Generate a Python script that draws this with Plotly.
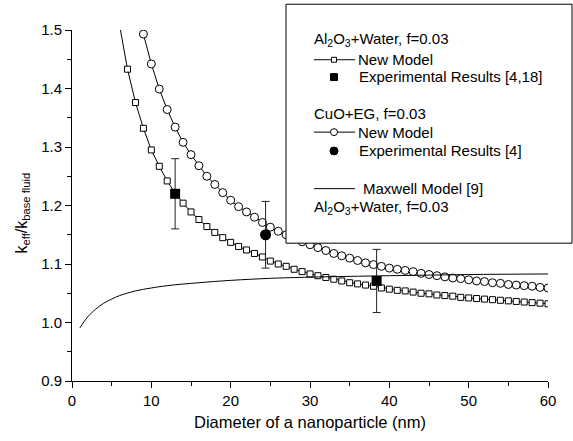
import plotly.graph_objects as go

# ---------------- data ----------------
d_al = list(range(6, 61))
k_al = [1.508, 1.433, 1.376, 1.332, 1.295, 1.267, 1.242, 1.221, 1.204, 1.189,
        1.176, 1.164, 1.154, 1.145, 1.137, 1.130, 1.124, 1.118, 1.112, 1.105,
        1.100, 1.096, 1.091, 1.087, 1.083, 1.080, 1.077, 1.074, 1.071, 1.068,
        1.066, 1.064, 1.062, 1.059, 1.057, 1.055, 1.054, 1.052, 1.050, 1.049,
        1.047, 1.046, 1.045, 1.043, 1.042, 1.041, 1.040, 1.039, 1.038, 1.037,
        1.036, 1.035, 1.034, 1.033, 1.032]

d_cuo = list(range(9, 61))
k_cuo = [1.493, 1.442, 1.399, 1.364, 1.334, 1.308, 1.287, 1.268, 1.250, 1.236,
         1.222, 1.209, 1.198, 1.189, 1.180, 1.171, 1.163, 1.156, 1.150, 1.143,
         1.138, 1.133, 1.128, 1.123, 1.118, 1.114, 1.110, 1.106, 1.102, 1.099,
         1.096, 1.093, 1.091, 1.089, 1.087, 1.084, 1.082, 1.080, 1.078, 1.076,
         1.075, 1.073, 1.071, 1.070, 1.068, 1.067, 1.065, 1.064, 1.063, 1.062,
         1.060, 1.059]

d_max = [1, 1.5, 2, 3, 4, 5, 6, 8, 10, 12, 16, 20, 25, 30, 40, 50, 60]
k_max = [0.991, 1.001, 1.010, 1.023, 1.033, 1.040, 1.046, 1.054, 1.059, 1.063,
         1.068, 1.072, 1.0755, 1.0775, 1.080, 1.082, 1.083]

exp_al_d = [13, 38.4]
exp_al_k = [1.22, 1.071]
exp_al_err = [0.06, 0.054]

exp_cuo_d = [24.4]
exp_cuo_k = [1.15]
exp_cuo_err = [0.057]

x_ticks = [0, 10, 20, 30, 40, 50, 60]
y_ticks = [0.9, 1.0, 1.1, 1.2, 1.3, 1.4, 1.5]

FONT = "Liberation Sans, Arial, sans-serif"

fig = go.Figure()

# Al2O3 new model: line (including clipped start) + open squares
fig.add_trace(go.Scatter(x=d_al, y=k_al, mode="lines",
                         line=dict(color="black", width=1), showlegend=False))
fig.add_trace(go.Scatter(x=d_al[1:], y=k_al[1:], mode="markers",
                         marker=dict(symbol="square", size=6, color="white",
                                     line=dict(color="black", width=1)),
                         showlegend=False))
# CuO new model: open circles
fig.add_trace(go.Scatter(x=d_cuo, y=k_cuo, mode="lines+markers",
                         line=dict(color="black", width=1),
                         marker=dict(symbol="circle", size=8, color="white",
                                     line=dict(color="black", width=1)),
                         showlegend=False))
# Maxwell
fig.add_trace(go.Scatter(x=d_max, y=k_max, mode="lines", line_shape="spline",
                         line=dict(color="black", width=1), showlegend=False))
# experiments
fig.add_trace(go.Scatter(x=exp_al_d, y=exp_al_k, mode="markers",
                         marker=dict(symbol="square", size=10, color="black"),
                         error_y=dict(type="data", array=exp_al_err, visible=True,
                                      color="#222", thickness=1, width=4),
                         showlegend=False))
fig.add_trace(go.Scatter(x=exp_cuo_d, y=exp_cuo_k, mode="markers",
                         marker=dict(symbol="circle", size=11, color="black"),
                         error_y=dict(type="data", array=exp_cuo_err, visible=True,
                                      color="#222", thickness=1, width=4),
                         showlegend=False))

# ---------------- layout ----------------
W, H = 573, 441
L, R, T, B = 72, 25, 30, 57
PW, PH = W - L - R, H - T - B


def px(x):
    return (x - L) / PW


def py(y):
    return (H - B - y) / PH


axis_common = dict(showline=True, linecolor="black", linewidth=1, showgrid=False,
                   zeroline=False, ticks="outside", ticklen=6, tickwidth=1,
                   tickcolor="black", mirror=False,
                   tickfont=dict(family=FONT, size=15, color="black"))

fig.update_layout(
    width=W, height=H,
    margin=dict(l=L, r=R, t=T, b=B),
    paper_bgcolor="white", plot_bgcolor="white",
    font=dict(family=FONT, color="black"),
    xaxis=dict(range=[0, 60], tickvals=x_ticks,
               minor=dict(dtick=5, tick0=0, ticks="outside", ticklen=4,
                          tickcolor="black", showgrid=False),
               title=dict(text="Diameter of a nanoparticle (nm)",
                          font=dict(family=FONT, size=16.5), standoff=8),
               **axis_common),
    yaxis=dict(range=[0.9, 1.5], tickvals=y_ticks, tickformat=".1f",
               minor=dict(dtick=0.05, tick0=0.9, ticks="outside", ticklen=4,
                          tickcolor="black", showgrid=False),
               **axis_common),
)

# y axis title as annotation
fig.add_annotation(text="k<sub>eff</sub>/k<sub>base fluid</sub>", textangle=-90,
                   xref="paper", yref="paper", x=px(22), y=py(215),
                   showarrow=False, font=dict(family=FONT, size=16),
                   xanchor="center", yanchor="middle")

# ---------------- custom legend box ----------------
shapes = []
shapes.append(dict(type="rect", xref="paper", yref="paper",
                   x0=px(286), x1=px(572), y0=py(245), y1=py(4),
                   fillcolor="white", line=dict(color="black", width=1),
                   layer="above"))


def hline(y):
    shapes.append(dict(type="line", xref="paper", yref="paper",
                       x0=px(314), x1=px(355), y0=py(y), y1=py(y),
                       line=dict(color="black", width=1), layer="above"))


def rect(cx, cy, s, fill):
    shapes.append(dict(type="rect", xref="paper", yref="paper",
                       x0=px(cx - s / 2), x1=px(cx + s / 2),
                       y0=py(cy + s / 2), y1=py(cy - s / 2),
                       fillcolor=fill, line=dict(color="black", width=1),
                       layer="above"))


def circ(cx, cy, s, fill):
    shapes.append(dict(type="circle", xref="paper", yref="paper",
                       x0=px(cx - s / 2), x1=px(cx + s / 2),
                       y0=py(cy + s / 2), y1=py(cy - s / 2),
                       fillcolor=fill, line=dict(color="black", width=1),
                       layer="above"))


hline(60)
rect(334, 60, 5, "white")
rect(334, 77.5, 7, "black")
hline(133)
circ(334, 133, 7, "white")
circ(334, 152, 8, "black")
hline(190)
fig.update_layout(shapes=shapes)


def txt(x, y, s):
    fig.add_annotation(text=s, xref="paper", yref="paper", x=px(x), y=py(y),
                       showarrow=False, xanchor="left", yanchor="middle",
                       font=dict(family=FONT, size=15, color="black"))


AL = "Al<sub>2</sub>O<sub>3</sub>+Water, f=0.03"
txt(312, 40, AL)
txt(356, 60, "New Model")
txt(357, 77, "Experimental Results [4,18]")
txt(312, 114, "CuO+EG, f=0.03")
txt(356, 133, "New Model")
txt(357, 152, "Experimental Results [4]")
txt(361, 190, "Maxwell Model [9]")
txt(312, 209, AL)

fig.write_html("out.html")
